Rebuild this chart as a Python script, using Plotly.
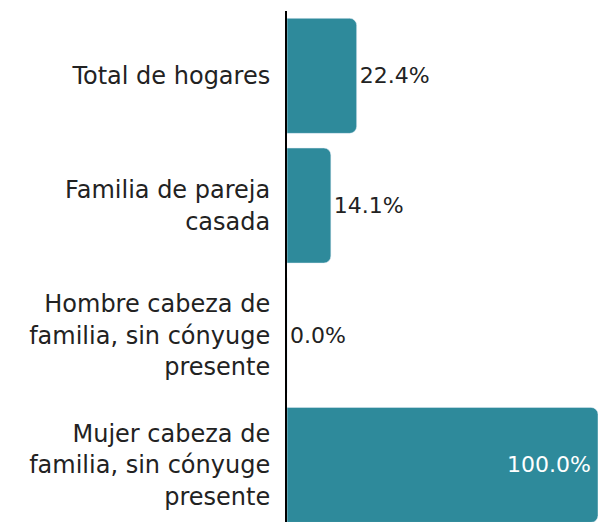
import plotly.graph_objects as go

categories = [
    "Total de hogares",
    "Familia de pareja<br>casada",
    "Hombre cabeza de<br>familia, sin cónyuge<br>presente",
    "Mujer cabeza de<br>familia, sin cónyuge<br>presente",
]
values = [22.4, 14.1, 0.0, 100.0]
labels = [f"{v:.1f}%" for v in values]
text_positions = ["inside" if v >= 50 else "outside" for v in values]

BAR = "#2E8A9B"
FONT = "DejaVu Sans, sans-serif"

fig = go.Figure(
    go.Bar(
        x=values,
        y=categories,
        orientation="h",
        marker=dict(color=BAR, cornerradius=7),
        text=labels,
        textposition=text_positions,
        insidetextanchor="end",
        textfont=dict(family=FONT, size=22),
        outsidetextfont=dict(family=FONT, size=22, color="#222222"),
        insidetextfont=dict(family=FONT, size=22, color="white"),
        cliponaxis=False,
        constraintext="none",
        hoverinfo="skip",
    )
)

fig.update_layout(
    width=600,
    height=522,
    margin=dict(l=287, r=2, t=11, b=0),
    paper_bgcolor="white",
    plot_bgcolor="white",
    bargap=0.113,
    showlegend=False,
    font=dict(family=FONT, size=24, color="#222222"),
)
fig.update_xaxes(range=[0, 100], visible=False, showgrid=False, zeroline=False)
fig.update_yaxes(
    range=[3.44, -0.5],
    showline=True,
    linecolor="black",
    linewidth=2,
    ticks="",
    ticklabelstandoff=10,
    showgrid=False,
    tickfont=dict(family=FONT, size=24, color="#222222"),
)

fig.write_html(
    "out.html",
    config={"displayModeBar": False},
    post_script="document.body.style.margin='0';document.body.style.overflow='hidden';",
)
